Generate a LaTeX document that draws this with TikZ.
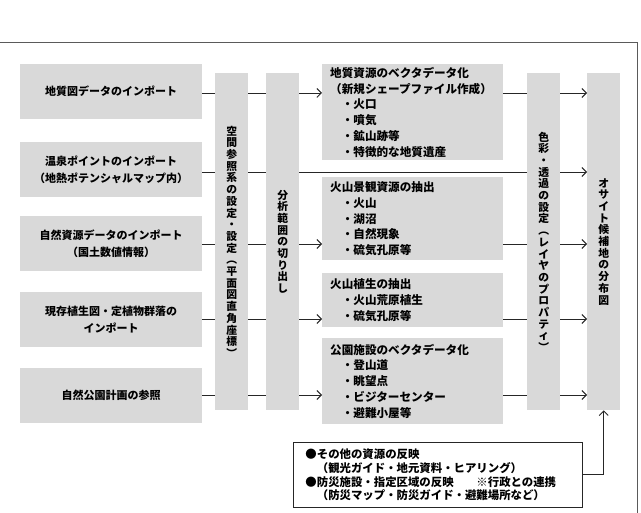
\documentclass[tikz,border=0pt]{standalone}
\usepackage{fontspec}
\newfontfamily\jp{Noto Sans CJK JP}
\usepackage{tikz}
\usetikzlibrary{arrows.meta,positioning,calc}

\definecolor{boxgray}{RGB}{217,217,217}
\definecolor{framegray}{RGB}{90,90,90}

\tikzset{
  lbox/.style={fill=boxgray, anchor=north west, inner sep=0pt, align=center,
    minimum width=182pt, minimum height=55pt,
    font=\jp\bfseries\fontsize{11}{16.5}\selectfont},
  colbox/.style={fill=boxgray, anchor=north west, inner sep=0pt, align=center,
    minimum width=33pt, minimum height=337pt,
    font=\jp\bfseries\fontsize{10.8}{11.7}\selectfont},
  mbox/.style={fill=boxgray, anchor=north west, inner xsep=8pt, inner ysep=0pt,
    align=left, text width=165pt,
    font=\jp\bfseries\fontsize{11.6}{15.8}\selectfont},
  notebox/.style={draw=black!85, line width=0.9pt, fill=white, anchor=north west,
    inner xsep=12pt, inner ysep=0pt, align=left, text width=265pt, minimum height=65pt,
    font=\jp\bfseries\fontsize{11.4}{13.6}\selectfont},
  flow/.style={draw=black!85, line width=0.9pt},
  flowarrow/.style={flow, -{Straight Barb[length=4.5pt,width=9pt]}}
}

\begin{document}
\begin{tikzpicture}[x=1pt, y=-1pt]

\useasboundingbox (0,0) rectangle (641,513);

% Frame (top and right edge)
\draw [framegray, line width=0.8pt] (0,42) -- (637,42) -- (637,513);

% Rows of the flow
\coordinate (r1) at (0,93);
\coordinate (r2) at (0,172);
\coordinate (r3) at (0,244);
\coordinate (r4) at (0,319);
\coordinate (r5) at (0,395);

% Input data (left)
\node (l1) [lbox] at (20,64) {地質図データのインポート};
\node (l2) [lbox] at (20,142) {温泉ポイントのインポート\\（地熱ポテンシャルマップ内）};
\node (l3) [lbox] at (20,216) {自然資源データのインポート\\（国土数値情報）};
\node (l4) [lbox] at (20,292) {現存植生図・定植物群落の\\インポート};
\node (l5) [lbox] at (20,368) {自然公園計画の参照};

% Processing columns
\node (c1) [colbox] at (215,73) {空\\間\\参\\照\\系\\の\\設\\定\\・\\設\\定\\︵\\平\\面\\図\\直\\角\\座\\標\\︶};
\node (c2) [colbox] at (266,73) {分\\析\\範\\囲\\の\\切\\り\\出\\し};

% Extracted resources (middle)
\node (ma) [mbox, minimum height=96pt] at (322,64)
  {地質資源のベクタデータ化\\（新規シェープファイル作成）\\　・火口\\　・噴気\\　・鉱山跡等\\　・特徴的な地質遺産};
\node (mb) [mbox, minimum height=83pt] at (322,177)
  {火山景観資源の抽出\\　・火山\\　・湖沼\\　・自然現象\\　・硫気孔原等};
\node (mc) [mbox, minimum height=54pt] at (322,273)
  {火山植生の抽出\\　・火山荒原植生\\　・硫気孔原等};
\node (md) [mbox, minimum height=86pt] at (322,338)
  {公園施設のベクタデータ化\\　・登山道\\　・眺望点\\　・ビジターセンター\\　・避難小屋等};

% Layer settings and result
\node (c3) [colbox] at (527,73) {色\\彩\\・\\透\\過\\の\\設\\定\\︵\\レ\\イ\\ヤ\\の\\プ\\ロ\\パ\\テ\\ィ\\︶};
\node (c4) [colbox] at (587,73) {オ\\サ\\イ\\ト\\候\\補\\地\\の\\分\\布\\図};

% Other sources
\node (note) [notebox] at (293,442)
  {●その他の資源の反映\\　（観光ガイド・地元資料・ヒアリング）\\●防災施設・指定区域の反映　　※行政との連携\\　（防災マップ・防災ガイド・避難場所など）};

% Connectors
\foreach \i in {1,...,5} {
  \draw [flow] (l\i.east |- r\i) -- (c1.west |- r\i);
  \draw [flow] (c1.east |- r\i) -- (c2.west |- r\i);
  \draw [flowarrow] (c3.east |- r\i) -- (c4.west |- r\i);
}
\foreach \m/\r in {ma/1, mb/3, mc/4, md/5} {
  \draw [flowarrow] (c2.east |- r\r) -- (\m.west |- r\r);
  \draw [flow] (\m.east |- r\r) -- (c3.west |- r\r);
}
\draw [flow] (c2.east |- r2) -- (c3.west |- r2);
\draw [flowarrow] (note.east) -| (c4.south);

\end{tikzpicture}
\end{document}
